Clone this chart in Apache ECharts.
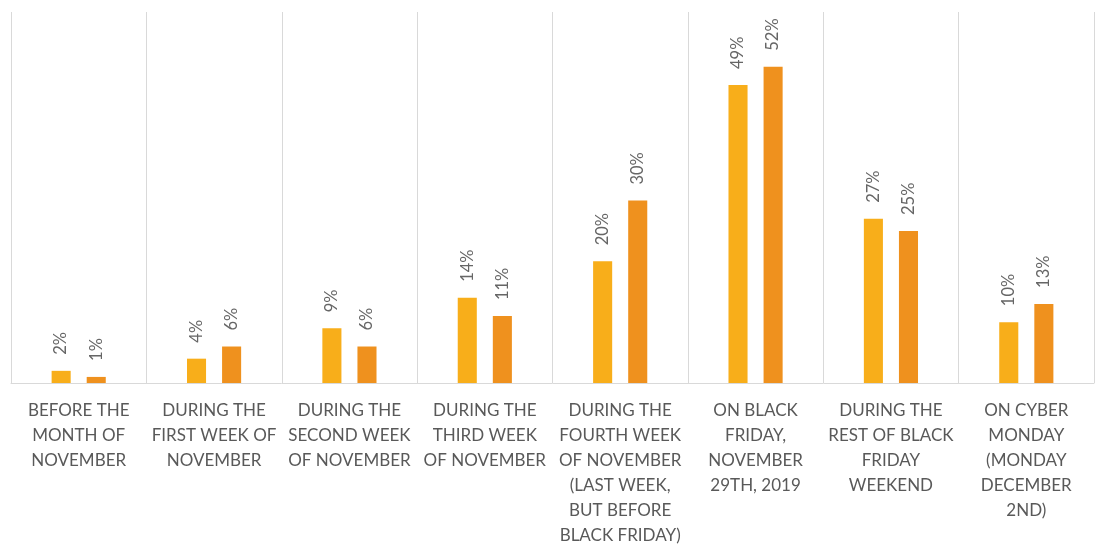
<!DOCTYPE html>
<html><head><meta charset="utf-8">
<script src="https://cdn.jsdelivr.net/npm/echarts@6/dist/echarts.min.js"></script>
<style>html,body{margin:0;padding:0;background:#fff;}#c{width:1100px;height:545px;}</style>
</head><body><div id="c"></div>
<script>
const categories = [
  "BEFORE THE\nMONTH OF\nNOVEMBER",
  "DURING THE\nFIRST WEEK OF\nNOVEMBER",
  "DURING THE\nSECOND WEEK\nOF NOVEMBER",
  "DURING THE\nTHIRD WEEK\nOF NOVEMBER",
  "DURING THE\nFOURTH WEEK\nOF NOVEMBER\n(LAST WEEK,\nBUT BEFORE\nBLACK FRIDAY)",
  "ON BLACK\nFRIDAY,\nNOVEMBER\n29TH, 2019",
  "DURING THE\nREST OF BLACK\nFRIDAY\nWEEKEND",
  "ON CYBER\nMONDAY\n(MONDAY\nDECEMBER\n2ND)"
];
const seriesA = [2, 4, 9, 14, 20, 49, 27, 10];
const seriesB = [1, 6, 6, 11, 30, 52, 25, 13];

const chart = echarts.init(document.getElementById('c'));
const labelCfg = {
  show: true, position: 'top', rotate: 90, align: 'left', verticalAlign: 'middle',
  distance: 16, formatter: '{c}%', color: '#666666', fontSize: 16.5, fontFamily: 'Lato'
};
chart.setOption({
  animation: false,
  grid: {left: 11, right: 6, top: 12, bottom: 162, containLabel: false, outerBoundsMode: 'none'},
  xAxis: {
    type: 'category', data: categories,
    axisLine: {show: true, lineStyle: {color: '#d9d9d9'}},
    axisTick: {show: false},
    splitLine: {show: true, lineStyle: {color: '#d9d9d9', width: 1}},
    axisLabel: {interval: 0, color: '#595959', fontSize: 17, fontFamily: 'Lato', lineHeight: 25, margin: 15}
  },
  yAxis: {type: 'value', min: 0, max: 61, show: false, splitLine: {show: false}},
  series: [
    {type: 'bar', data: seriesA, itemStyle: {color: '#F8AE1A'}, barGap: '84%', barCategoryGap: '60%', label: labelCfg},
    {type: 'bar', data: seriesB, itemStyle: {color: '#EF911E'}, label: labelCfg}
  ]
});
</script></body></html>
